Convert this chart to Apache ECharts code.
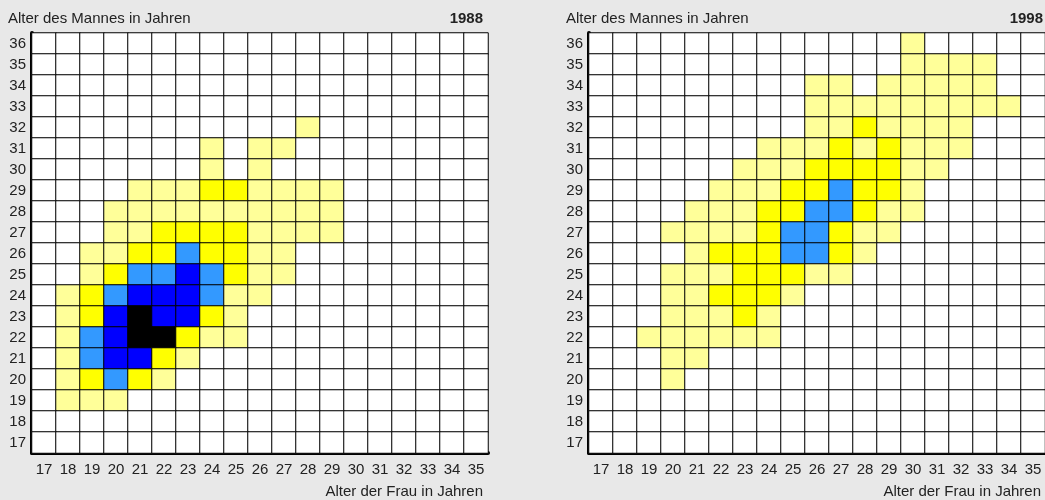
<!DOCTYPE html>
<html>
<head>
<meta charset="utf-8">
<script src="https://cdn.jsdelivr.net/npm/echarts@6/dist/echarts.min.js"></script>
<style>
  html, body { margin: 0; padding: 0; background: #e8e8e8; }
  #chart { width: 1045px; height: 500px; }
</style>
</head>
<body>
<div id="chart"></div>
<script>
// Alter der Frau (x) und des Mannes (y)
const womanAges = [17, 18, 19, 20, 21, 22, 23, 24, 25, 26, 27, 28, 29, 30, 31, 32, 33, 34, 35];
const manAges = [17, 18, 19, 20, 21, 22, 23, 24, 25, 26, 27, 28, 29, 30, 31, 32, 33, 34, 35, 36];

// levels: 0 leer, 1 hellgelb, 2 gelb, 3 hellblau, 4 blau, 5 schwarz
// rows from man age 36 (top) down to 17 (bottom)
const levels1988 = [
  [0,0,0,0,0,0,0,0,0,0,0,0,0,0,0,0,0,0,0],
  [0,0,0,0,0,0,0,0,0,0,0,0,0,0,0,0,0,0,0],
  [0,0,0,0,0,0,0,0,0,0,0,0,0,0,0,0,0,0,0],
  [0,0,0,0,0,0,0,0,0,0,0,0,0,0,0,0,0,0,0],
  [0,0,0,0,0,0,0,0,0,0,0,1,0,0,0,0,0,0,0],
  [0,0,0,0,0,0,0,1,0,1,1,0,0,0,0,0,0,0,0],
  [0,0,0,0,0,0,0,1,0,1,0,0,0,0,0,0,0,0,0],
  [0,0,0,0,1,1,1,2,2,1,1,1,1,0,0,0,0,0,0],
  [0,0,0,1,1,1,1,1,1,1,1,1,1,0,0,0,0,0,0],
  [0,0,0,1,1,2,2,2,2,1,1,1,1,0,0,0,0,0,0],
  [0,0,1,1,2,2,3,2,2,1,1,0,0,0,0,0,0,0,0],
  [0,0,1,2,3,3,4,3,2,1,1,0,0,0,0,0,0,0,0],
  [0,1,2,3,4,4,4,3,1,1,0,0,0,0,0,0,0,0,0],
  [0,1,2,4,5,4,4,2,1,0,0,0,0,0,0,0,0,0,0],
  [0,1,3,4,5,5,2,1,1,0,0,0,0,0,0,0,0,0,0],
  [0,1,3,4,4,2,1,0,0,0,0,0,0,0,0,0,0,0,0],
  [0,1,2,3,2,1,0,0,0,0,0,0,0,0,0,0,0,0,0],
  [0,1,1,1,0,0,0,0,0,0,0,0,0,0,0,0,0,0,0],
  [0,0,0,0,0,0,0,0,0,0,0,0,0,0,0,0,0,0,0],
  [0,0,0,0,0,0,0,0,0,0,0,0,0,0,0,0,0,0,0]
];

const levels1998 = [
  [0,0,0,0,0,0,0,0,0,0,0,0,0,1,0,0,0,0,0],
  [0,0,0,0,0,0,0,0,0,0,0,0,0,1,1,1,1,0,0],
  [0,0,0,0,0,0,0,0,0,1,1,0,1,1,1,1,1,0,0],
  [0,0,0,0,0,0,0,0,0,1,1,1,1,1,1,1,1,1,0],
  [0,0,0,0,0,0,0,0,0,1,1,2,1,1,1,1,0,0,0],
  [0,0,0,0,0,0,0,1,1,1,2,1,2,1,1,1,0,0,0],
  [0,0,0,0,0,0,1,1,1,2,2,2,2,1,1,0,0,0,0],
  [0,0,0,0,0,1,1,1,2,2,3,2,2,1,0,0,0,0,0],
  [0,0,0,0,1,1,1,2,2,3,3,2,1,1,0,0,0,0,0],
  [0,0,0,1,1,1,1,2,3,3,2,1,1,0,0,0,0,0,0],
  [0,0,0,0,1,2,2,2,3,3,2,1,0,0,0,0,0,0,0],
  [0,0,0,1,1,1,2,2,2,1,1,0,0,0,0,0,0,0,0],
  [0,0,0,1,1,2,2,2,1,0,0,0,0,0,0,0,0,0,0],
  [0,0,0,1,1,1,2,1,0,0,0,0,0,0,0,0,0,0,0],
  [0,0,1,1,1,1,1,1,0,0,0,0,0,0,0,0,0,0,0],
  [0,0,0,1,1,0,0,0,0,0,0,0,0,0,0,0,0,0,0],
  [0,0,0,1,0,0,0,0,0,0,0,0,0,0,0,0,0,0,0],
  [0,0,0,0,0,0,0,0,0,0,0,0,0,0,0,0,0,0,0],
  [0,0,0,0,0,0,0,0,0,0,0,0,0,0,0,0,0,0,0],
  [0,0,0,0,0,0,0,0,0,0,0,0,0,0,0,0,0,0,0]
];

const levelColors = ['#ffffff', '#ffff99', '#ffff00', '#3399ff', '#0000ff', '#000000'];

function toCells(rows) {
  const out = [];
  rows.forEach((row, r) => {
    const y = manAges.length - 1 - r;
    row.forEach((v, x) => out.push([x, y, v]));
  });
  return out;
}

const font = 'Arial, "Liberation Sans", sans-serif';
const chart = echarts.init(document.getElementById('chart'));

function xAxisFor(i) {
  return {
    type: 'category', gridIndex: i, data: womanAges.map(String),
    axisLine: { lineStyle: { color: '#000', width: 4 } },
    axisTick: { show: false },
    axisLabel: { interval: 0, color: '#222', fontSize: 15, fontFamily: font, margin: 9 },
    splitLine: { show: false }
  };
}
function yAxisFor(i) {
  return {
    type: 'category', gridIndex: i, data: manAges.map(String),
    axisLine: { lineStyle: { color: '#000', width: 4 } },
    axisTick: { show: false },
    axisLabel: { interval: 0, color: '#222', fontSize: 15, fontFamily: font, margin: 6 },
    splitLine: { show: false }
  };
}

const plain = { fontSize: 15, fontFamily: font, color: '#222', fontWeight: 'normal' };
const bold = { fontSize: 15, fontFamily: font, color: '#222', fontWeight: 'bold' };

chart.setOption({
  backgroundColor: '#e8e8e8',
  animation: false,
  title: [
    { text: 'Alter des Mannes in Jahren', left: 8, top: 11, textStyle: plain, padding: 0 },
    { text: '1988', right: 562, top: 11, textStyle: bold, padding: 0 },
    { text: 'Alter der Frau in Jahren', right: 562, top: 484, textStyle: plain, padding: 0 },
    { text: 'Alter des Mannes in Jahren', left: 566, top: 11, textStyle: plain, padding: 0 },
    { text: '1998', right: 2, top: 11, textStyle: bold, padding: 0 },
    { text: 'Alter der Frau in Jahren', right: 4, top: 484, textStyle: plain, padding: 0 }
  ],
  grid: [
    { left: 32, top: 33, width: 456, height: 420 },
    { left: 589, top: 33, width: 456, height: 420 }
  ],
  xAxis: [xAxisFor(0), xAxisFor(1)],
  yAxis: [yAxisFor(0), yAxisFor(1)],
  visualMap: {
    type: 'piecewise', show: false, seriesIndex: [0, 1], dimension: 2,
    pieces: levelColors.map((c, i) => ({ value: i, color: c }))
  },
  series: [
    {
      type: 'heatmap', xAxisIndex: 0, yAxisIndex: 0, data: toCells(levels1988),
      itemStyle: { borderColor: '#000', borderWidth: 1 },
      emphasis: { disabled: true }
    },
    {
      type: 'heatmap', xAxisIndex: 1, yAxisIndex: 1, data: toCells(levels1998),
      itemStyle: { borderColor: '#000', borderWidth: 1 },
      emphasis: { disabled: true }
    }
  ]
});
</script>
</body>
</html>
